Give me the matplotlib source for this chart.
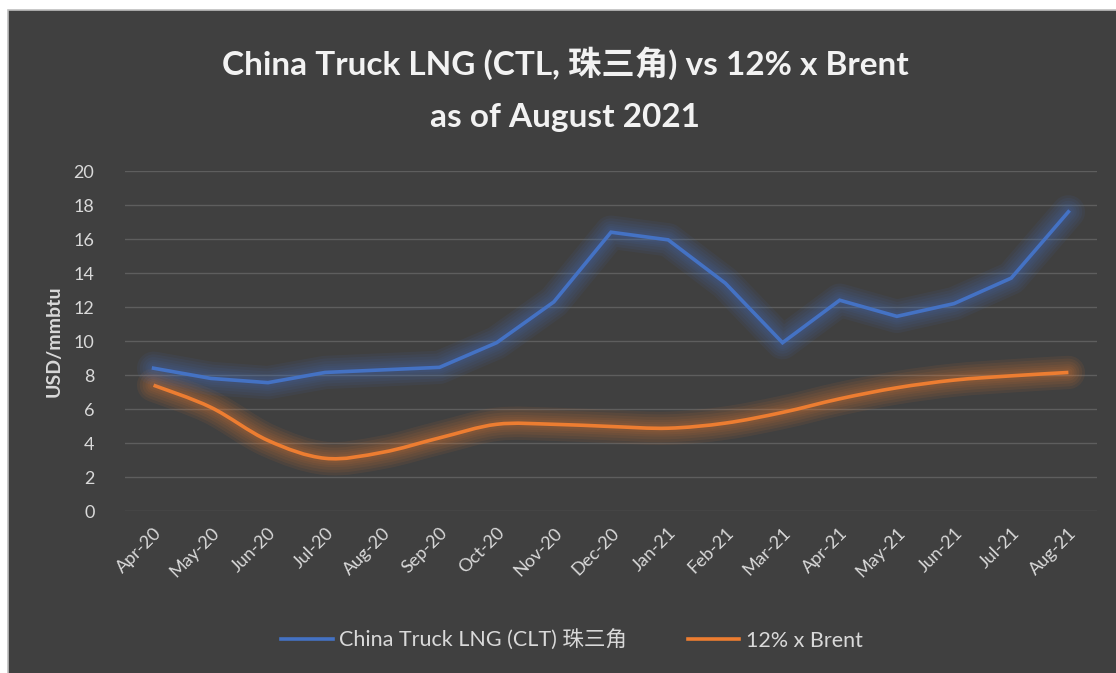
import numpy as np
import matplotlib.pyplot as plt
import matplotlib.patheffects as pe
from matplotlib.path import Path
from matplotlib.patches import PathPatch, Rectangle
from matplotlib.lines import Line2D

plt.rcParams['font.family'] = ['Lato', 'Noto Sans CJK SC', 'DejaVu Sans']

# data
months = ['Apr-20', 'May-20', 'Jun-20', 'Jul-20', 'Aug-20', 'Sep-20', 'Oct-20', 'Nov-20',
          'Dec-20', 'Jan-21', 'Feb-21', 'Mar-21', 'Apr-21', 'May-21', 'Jun-21', 'Jul-21', 'Aug-21']
truck_lng = [8.4, 7.8, 7.55, 8.15, 8.3, 8.45, 9.9, 12.3, 16.4, 15.95, 13.4, 9.9,
             12.4, 11.45, 12.2, 13.7, 17.6]
brent_12 = [7.4, 6.1, 4.15, 3.1, 3.45, 4.3, 5.1, 5.1, 4.97, 4.87, 5.17, 5.8,
            6.6, 7.25, 7.7, 7.95, 8.15]
yticks = list(range(0, 21, 2))

BG = '#404040'
BLUE = '#4472C4'
ORANGE = '#ED7D31'
TXT = '#D9D9D9'

W, H = 1116, 673
fig = plt.figure(figsize=(W / 100, H / 100), dpi=100)
fig.patch.set_facecolor('white')
# dark chart panel with a thin light border on top/left
fig.patches.append(Rectangle((7.5 / W, -0.05), 1.1, 1 - 10.5 / H + 0.05,
                             transform=fig.transFigure, facecolor=BG,
                             edgecolor='#BFBFBF', linewidth=1.2, zorder=-10))

ax = fig.add_axes([125 / W, 1 - 511 / H, 972 / W, 340 / H])
ax.set_facecolor(BG)
x = np.arange(len(months))


def glow(color, widths=(24, 20, 16, 12, 9, 6), alpha=0.08):
    effs = [pe.Stroke(linewidth=w, foreground=color, alpha=alpha,
                      capstyle='round', joinstyle='round') for w in widths]
    return effs + [pe.Normal()]


# blue: straight segments
ax.plot(x, truck_lng, color=BLUE, lw=2.6, solid_joinstyle='miter',
        path_effects=glow(BLUE), zorder=4)

# orange: smoothed curve (bezier through the data points)
pts = np.column_stack([x, brent_12])
verts = [pts[0]]
codes = [Path.MOVETO]
n = len(pts)
for i in range(n - 1):
    p0 = pts[max(i - 1, 0)]
    p1 = pts[i]
    p2 = pts[i + 1]
    p3 = pts[min(i + 2, n - 1)]
    c1 = p1 + (p2 - p0) / 6
    c2 = p2 - (p3 - p1) / 6
    verts += [c1, c2, p2]
    codes += [Path.CURVE4] * 3
ax.add_patch(PathPatch(Path(verts, codes), fill=False, edgecolor=ORANGE, lw=2.6,
                       path_effects=glow(ORANGE), zorder=3))

ax.set_xlim(-0.5, len(months) - 0.5)
ax.set_ylim(0, 20)
ax.set_yticks(yticks)
ax.set_xticks(x)
ax.set_xticklabels(months, rotation=45, ha='right', rotation_mode='anchor')
ax.tick_params(axis='both', length=0, colors=TXT, labelsize=13)
ax.tick_params(axis='y', pad=22)
ax.tick_params(axis='x', pad=10)
ax.grid(axis='y', color='#5E5E5E', lw=1)
ax.set_axisbelow(True)
for s in ax.spines.values():
    s.set_visible(False)

ax.set_ylabel('USD/mmbtu', color=TXT, fontsize=14, fontweight='bold', labelpad=8)

fig.text(565 / W, 1 - 63 / H, 'China Truck LNG (CTL, 珠三角) vs 12% x Brent',
         ha='center', va='center', color='#F2F2F2', fontsize=24, fontweight='bold')
fig.text(565 / W, 1 - 117 / H, 'as of August 2021',
         ha='center', va='center', color='#F2F2F2', fontsize=24, fontweight='bold')

handles = [Line2D([], [], color=BLUE, lw=2.6),
           Line2D([], [], color=ORANGE, lw=2.6)]
leg = fig.legend(handles, ['China Truck LNG (CLT) 珠三角', '12% x Brent'],
                 loc='center', bbox_to_anchor=(572 / W, 1 - 640 / H), ncol=2,
                 frameon=False, fontsize=15.5, handlelength=2.4, handletextpad=0.3,
                 columnspacing=2.8)
for t in leg.get_texts():
    t.set_color(TXT)

fig.savefig('out.png', dpi=100, facecolor=fig.get_facecolor())
